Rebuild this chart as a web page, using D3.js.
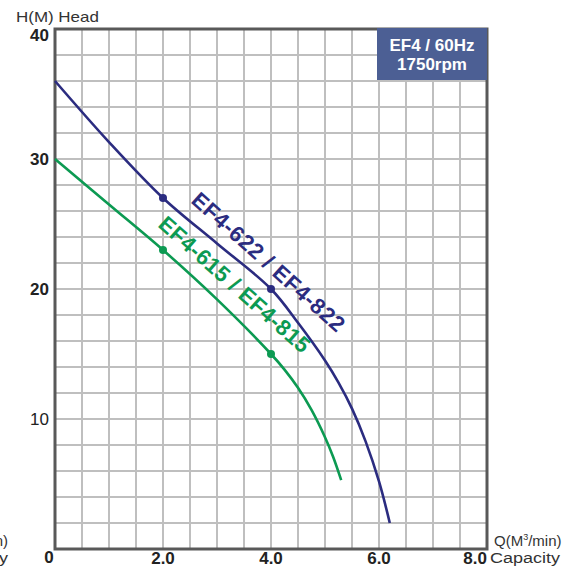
<!DOCTYPE html>
<html><head><meta charset="utf-8">
<script src="https://cdn.jsdelivr.net/npm/d3@7"></script>
<style>body{margin:0;background:#fff;}svg{display:block;font-family:"Liberation Sans",Arial,sans-serif;}</style>
</head><body>
<svg id="c" width="576" height="567"></svg>
<script>
const blueQ = [0, 1, 2, 3, 4, 4.5, 5, 5.25, 5.5, 5.75, 6, 6.2];
const blueH = [36, 31.3, 27, 23.5, 20, 17.4, 14.5, 12.8, 10.8, 8.3, 5.2, 2];
const blueMarkersQ = [2, 4];
const blueMarkersH = [27, 20];
const greenQ = [0, 1, 2, 3, 4, 4.25, 4.5, 4.75, 5, 5.15, 5.3];
const greenH = [30, 26.5, 23, 19.2, 15, 13.8, 12.4, 10.7, 8.6, 7.1, 5.3];
const greenMarkersQ = [2, 4];
const greenMarkersH = [23, 15];
const xTicks = [2, 4, 6, 8];
const xTickLabels = ["2.0", "4.0", "6.0", "8.0"];
const yTicks = [10, 20, 30, 40];
const yTickLabels = ["10", "20", "30", "40"];
const blueLabel = "EF4-622 / EF4-822";
const greenLabel = "EF4-615 / EF4-815";
const titleLines = ["EF4 / 60Hz", "1750rpm"];

const svg = d3.select("#c");
const x = d3.scaleLinear().domain([0, 8]).range([55, 487]);
const y = d3.scaleLinear().domain([0, 40]).range([549, 29]);

// grid
const g = svg.append("g");
g.selectAll("line.v").data(d3.range(0.5, 8, 0.5)).enter().append("line")
  .attr("x1", d => x(d)).attr("x2", d => x(d)).attr("y1", y(40)).attr("y2", y(0))
  .attr("stroke", "#bfbfbf").attr("stroke-width", 2);
g.selectAll("line.h").data(d3.range(2, 40, 2)).enter().append("line")
  .attr("x1", x(0)).attr("x2", x(8)).attr("y1", d => y(d)).attr("y2", d => y(d))
  .attr("stroke", "#bfbfbf").attr("stroke-width", 2);

// frame
svg.append("rect").attr("x", x(0)).attr("y", y(40)).attr("width", x(8) - x(0)).attr("height", y(0) - y(40))
  .attr("fill", "none").attr("stroke", "#595959").attr("stroke-width", 3);

// title box
svg.append("rect").attr("x", 377).attr("y", 28).attr("width", x(8) - 377).attr("height", 52)
  .attr("fill", "#4c5f94");
svg.selectAll("text.title").data(titleLines).enter().append("text")
  .attr("x", 432).attr("y", (d, i) => 51 + i * 19).attr("text-anchor", "middle")
  .attr("fill", "#fff").attr("font-weight", "bold").attr("font-size", 17).text(d => d);

// curves
const line = d3.line().x(d => x(d[0])).y(d => y(d[1])).curve(d3.curveCatmullRom.alpha(0.5));
const blue = "#2b2c80", green = "#0c9a52";
svg.append("path").datum(blueQ.map((q, i) => [q, blueH[i]])).attr("d", line)
  .attr("fill", "none").attr("stroke", blue).attr("stroke-width", 2.6);
svg.append("path").datum(greenQ.map((q, i) => [q, greenH[i]])).attr("d", line)
  .attr("fill", "none").attr("stroke", green).attr("stroke-width", 2.6);
svg.selectAll("circle.b").data(blueMarkersQ).enter().append("circle")
  .attr("cx", d => x(d)).attr("cy", (d, i) => y(blueMarkersH[i])).attr("r", 4).attr("fill", blue);
svg.selectAll("circle.g").data(greenMarkersQ).enter().append("circle")
  .attr("cx", d => x(d)).attr("cy", (d, i) => y(greenMarkersH[i])).attr("r", 4).attr("fill", green);

// curve labels
svg.append("text").attr("transform", "translate(190,202) rotate(41.8)")
  .attr("fill", blue).attr("font-weight", "bold").attr("font-size", 22).attr("letter-spacing", 0.6).text(blueLabel);
svg.append("text").attr("transform", "translate(157,226) rotate(41.5)")
  .attr("fill", green).attr("font-weight", "bold").attr("font-size", 22).attr("letter-spacing", 0.4).text(greenLabel);

// y tick labels
svg.selectAll("text.yt").data(yTicks).enter().append("text")
  .attr("x", 49).attr("y", d => d === 40 ? y(d) + 12 : y(d) + 6).attr("text-anchor", "end")
  .attr("font-size", 17).attr("font-weight", d => d === 10 ? "normal" : "bold").attr("fill", "#222")
  .text((d, i) => yTickLabels[i]);
svg.append("text").attr("x", 49).attr("y", 563).attr("text-anchor", "middle")
  .attr("font-size", 17).attr("font-weight", "bold").attr("fill", "#222").text("0");

// x tick labels
svg.selectAll("text.xt").data(xTicks).enter().append("text")
  .attr("x", d => x(d)).attr("y", 564)
  .attr("text-anchor", d => d === 8 ? "end" : "middle")
  .attr("font-size", 17).attr("font-weight", "bold").attr("fill", "#222")
  .text((d, i) => xTickLabels[i]);

// axis titles
svg.append("text").attr("transform", "translate(16,22) scale(1.17,1)").attr("font-size", 14.5).attr("fill", "#333").text("H(M) Head");
const qt = svg.append("text").attr("x", 494).attr("y", 546).attr("font-size", 15).attr("fill", "#333");
qt.append("tspan").text("Q(M");
qt.append("tspan").attr("font-size", 9).attr("dy", -6).text("3");
qt.append("tspan").attr("dy", 6).text("/min)");
svg.append("text").attr("transform", "translate(490,563) scale(1.2,1)").attr("font-size", 15).attr("fill", "#333").text("Capacity");

// clipped fragments at left edge (as in the reference)
svg.append("text").attr("x", 8).attr("y", 546).attr("text-anchor", "end").attr("font-size", 15).attr("fill", "#333").text("Q(M³/min)");
svg.append("text").attr("transform", "translate(8,563) scale(1.2,1)").attr("text-anchor", "end").attr("font-size", 15).attr("fill", "#333").text("Capacity");
</script>
</body></html>
